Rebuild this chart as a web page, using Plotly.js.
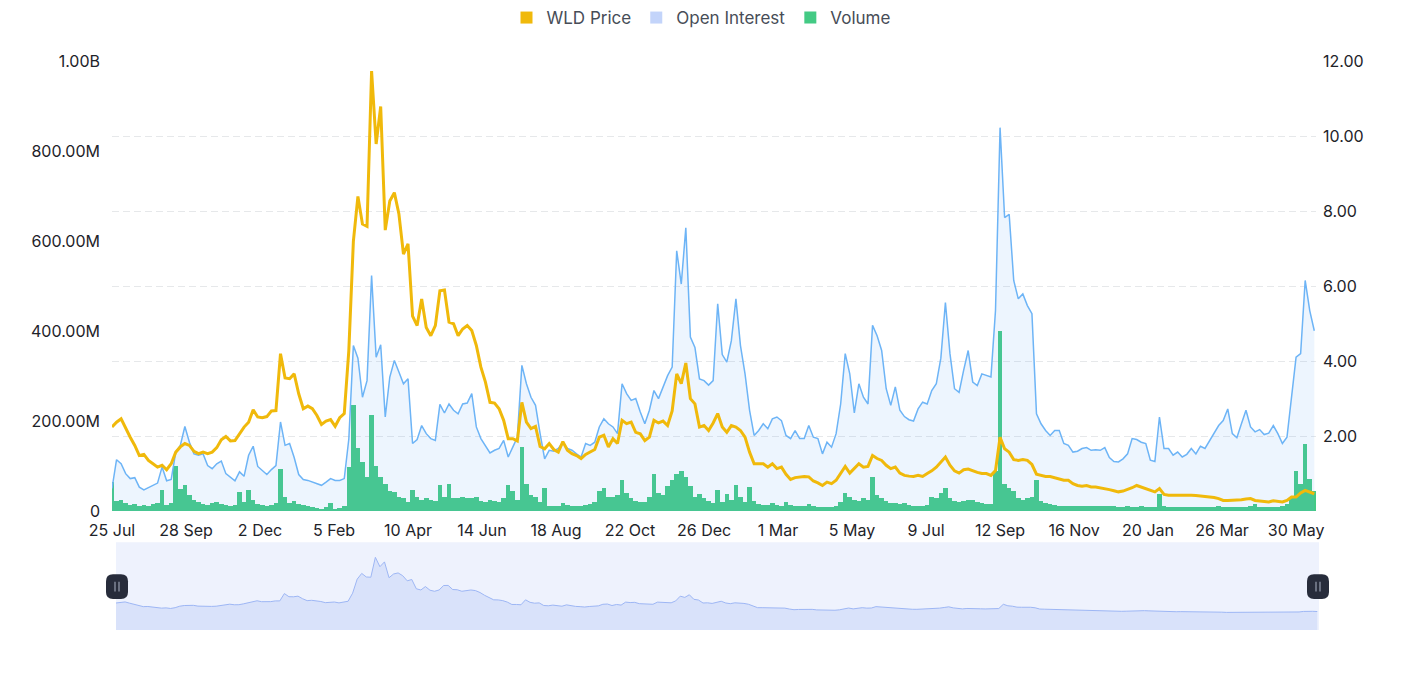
<!DOCTYPE html>
<html>
<head>
<meta charset="utf-8">
<script src="https://cdn.plot.ly/plotly-3.0.1.min.js"></script>
<style>
  html, body { margin: 0; padding: 0; background: #ffffff; }
  #chart { width: 1402px; height: 675px; }
</style>
</head>
<body>
<div id="chart"></div>
<script>
// WLD perpetual: price, open interest and volume, one sample every 4 days from 25 Jul 2023
const startDate = '2023-07-25';
const stepDays = 4;

// WLD price in USDT
const priceUsd = [
  2.24, 2.37, 2.46, 2.2, 1.97, 1.75, 1.48, 1.51, 1.35, 1.26,
  1.17, 1.22, 1.1, 1.26, 1.57, 1.71, 1.8, 1.75, 1.59, 1.53,
  1.57, 1.53, 1.57, 1.69, 1.9, 1.99, 1.87, 1.88, 2.06, 2.24,
  2.37, 2.7, 2.51, 2.49, 2.52, 2.67, 2.68, 4.2, 3.55, 3.53,
  3.66, 3.13, 2.73, 2.8, 2.73, 2.55, 2.31, 2.4, 2.44, 2.26,
  2.49, 2.6, 4.28, 7.2, 8.4, 7.66, 7.6, 11.75, 9.8, 10.8,
  7.5, 8.28, 8.5, 7.93, 6.86, 7.13, 5.2, 4.95, 5.66, 4.9,
  4.68, 4.95, 5.88, 5.9, 5.04, 5.0, 4.68, 4.86, 4.95, 4.82,
  4.42, 3.84, 3.44, 2.9, 2.88, 2.73, 2.42, 1.93, 1.93, 1.87,
  2.9, 2.37, 2.2, 2.26, 1.72, 1.66, 1.8, 1.64, 1.57, 1.85,
  1.62, 1.53, 1.48, 1.4, 1.51, 1.57, 1.64, 1.97, 2.02, 1.71,
  1.93, 1.8, 2.42, 2.33, 2.37, 2.1, 2.06, 1.88, 1.97, 2.42,
  2.35, 2.4, 2.28, 2.67, 3.66, 3.4, 3.95, 3.0, 2.86, 2.24,
  2.28, 2.15, 2.35, 2.6, 2.24, 2.1, 2.28, 2.24, 2.15, 1.97,
  1.57, 1.26, 1.26, 1.26, 1.17, 1.26, 1.13, 1.17, 0.98, 0.84,
  0.89, 0.91, 0.92, 0.91, 0.8, 0.75, 0.68, 0.77, 0.73, 0.82,
  1.0, 1.19, 1.01, 1.13, 1.26, 1.17, 1.19, 1.48, 1.4, 1.35,
  1.22, 1.13, 1.17, 1.01, 0.95, 0.93, 0.92, 0.95, 0.92, 1.0,
  1.07, 1.17, 1.3, 1.44, 1.22, 1.07, 1.01, 1.1, 1.12, 1.07,
  1.03, 1.0, 1.0, 0.95, 1.08, 1.97, 1.66, 1.57, 1.37, 1.35,
  1.37, 1.35, 1.24, 0.98, 0.95, 0.92, 0.92, 0.89, 0.84, 0.82,
  0.82, 0.73, 0.68, 0.66, 0.68, 0.64, 0.64, 0.62, 0.61, 0.57,
  0.54, 0.51, 0.53, 0.57, 0.62, 0.68, 0.64, 0.6, 0.55, 0.51,
  0.6, 0.44, 0.42, 0.42, 0.44, 0.44, 0.42, 0.42, 0.41, 0.4,
  0.39, 0.39, 0.36, 0.33, 0.28, 0.28, 0.28, 0.28, 0.3, 0.32,
  0.33, 0.28, 0.27, 0.26, 0.24, 0.27, 0.25, 0.24, 0.28, 0.37,
  0.37, 0.48, 0.55, 0.51, 0.46
];

// Open interest, millions of USDT
const openInterestM = [
  50, 114, 105, 83, 72, 74, 53, 47, 52, 57,
  62, 98, 67, 70, 131, 146, 188, 153, 127, 124,
  127, 101, 94, 105, 111, 83, 74, 67, 87, 77,
  124, 144, 99, 89, 81, 92, 101, 198, 146, 150,
  119, 81, 70, 68, 64, 61, 57, 64, 72, 68,
  68, 72, 160, 368, 340, 253, 290, 524, 342, 370,
  209, 298, 335, 309, 283, 294, 150, 159, 190, 172,
  161, 157, 237, 218, 238, 224, 216, 238, 240, 261,
  187, 161, 146, 129, 135, 139, 157, 120, 142, 164,
  324, 283, 253, 235, 172, 116, 135, 133, 139, 153,
  139, 135, 127, 120, 150, 146, 153, 187, 205, 194,
  187, 172, 283, 261, 246, 250, 220, 194, 224, 268,
  250, 276, 301, 320, 579, 505, 630, 387, 364, 294,
  290, 280, 290, 461, 348, 331, 379, 472, 368, 305,
  224, 168, 179, 194, 183, 205, 209, 201, 168, 161,
  179, 161, 161, 190, 164, 161, 127, 153, 142, 172,
  238, 350, 305, 218, 283, 253, 238, 413, 390, 357,
  272, 235, 276, 224, 210, 203, 200, 227, 242, 238,
  268, 283, 340, 464, 350, 272, 264, 313, 357, 287,
  279, 305, 301, 298, 446, 853, 653, 660, 513, 472,
  483, 457, 439, 216, 194, 179, 168, 179, 179, 150,
  146, 131, 133, 139, 141, 135, 136, 135, 141, 119,
  110, 109, 116, 127, 161, 159, 153, 150, 113, 110,
  209, 139, 139, 124, 131, 120, 126, 139, 127, 144,
  139, 156, 176, 190, 201, 227, 172, 163, 194, 224,
  187, 176, 181, 170, 173, 190, 172, 150, 164, 260,
  342, 350, 513, 446, 401
];

// Traded volume, millions of USDT
const volumeM = [
  64, 22, 25, 18, 14, 16, 12, 14, 12, 16,
  18, 46, 14, 18, 101, 48, 57, 35, 25, 20,
  16, 14, 18, 20, 16, 14, 12, 14, 42, 20,
  47, 24, 16, 14, 12, 14, 18, 94, 30, 18,
  22, 16, 14, 10, 8, 6, 5, 8, 18, 5,
  6, 12, 98, 235, 140, 110, 75, 213, 100, 75,
  60, 45, 42, 30, 28, 20, 46, 32, 25, 28,
  25, 22, 57, 30, 61, 28, 28, 30, 28, 28,
  30, 22, 20, 24, 22, 20, 28, 57, 45, 25,
  142, 60, 35, 30, 20, 50, 12, 12, 12, 18,
  14, 12, 12, 12, 14, 16, 20, 45, 50, 30,
  32, 35, 68, 40, 28, 22, 20, 20, 30, 83,
  40, 35, 55, 68, 83, 90, 75, 55, 32, 38,
  28, 22, 18, 46, 20, 38, 25, 57, 32, 20,
  53, 22, 15, 14, 14, 18, 14, 12, 20, 14,
  10, 10, 12, 15, 10, 8, 8, 8, 8, 10,
  20, 39, 30, 25, 22, 28, 25, 75, 35, 28,
  22, 18, 18, 16, 18, 14, 12, 12, 12, 14,
  30, 28, 40, 50, 28, 22, 20, 22, 24, 24,
  20, 18, 16, 16, 90, 401, 60, 50, 45, 28,
  24, 28, 30, 68, 22, 18, 15, 14, 12, 12,
  12, 12, 10, 10, 10, 10, 10, 10, 10, 10,
  10, 9, 9, 10, 9, 9, 10, 9, 9, 9,
  38, 12, 9, 8, 8, 9, 8, 9, 8, 8,
  9, 8, 9, 12, 9, 8, 8, 8, 8, 9,
  10, 16, 9, 8, 9, 9, 9, 10, 16, 28,
  90, 60, 150, 70, 45
];

// Bottom axis ticks
const tickDates = [
  '2023-07-25', '2023-09-28', '2023-12-02', '2024-02-05', '2024-04-10',
  '2024-06-14', '2024-08-18', '2024-10-22', '2024-12-26', '2025-03-01',
  '2025-05-05', '2025-07-09', '2025-09-12', '2025-11-16', '2026-01-20',
  '2026-03-26', '2026-05-30'
];
const tickLabels = [
  '25 Jul', '28 Sep', '2 Dec', '5 Feb', '10 Apr', '14 Jun', '18 Aug', '22 Oct',
  '26 Dec', '1 Mar', '5 May', '9 Jul', '12 Sep', '16 Nov', '20 Jan', '26 Mar', '30 May'
];
const leftTickVals = [0, 200e6, 400e6, 600e6, 800e6, 1e9];
const leftTickLabels = ['0', '200.00M', '400.00M', '600.00M', '800.00M', '1.00B'];
const rightTickVals = [2, 4, 6, 8, 10, 12];

// ---- helpers ----
const DAY_MS = 86400000;
const t0 = Date.parse(startDate + 'T00:00:00Z');
function dateAt(dayOffset) {
  const iso = new Date(t0 + dayOffset * DAY_MS).toISOString();
  return iso.slice(0, 10) + ' ' + iso.slice(11, 19);
}
const dates = priceUsd.map((_, i) => dateAt(i * stepDays));
const xRange = [dateAt(0), dateAt((priceUsd.length - 1) * stepDays + 1.5)];

const W = 1402, H = 675;
const px = v => v / W;          // horizontal pixel -> paper
const py = v => 1 - v / H;      // vertical pixel -> paper

// main panel and navigator panel placement (pixels)
const main = { l: 112, r: 1316, t: 60.7, b: 510.7 };
const nav = { l: 116, r: 1319, t: 542, b: 630 };
const navFloor = -3.4, navTop = 14.9;

const COLORS = {
  price: '#F0B90B',
  oiLine: '#6DB4F6',
  oiFill: 'rgba(110,175,245,0.12)',
  oiLegend: '#C3D4FA',
  volume: '#43CA84',
  text: '#1E2329',
  legendText: '#474D57',
  grid: '#E6E8EA',
  navBg: '#EEF2FD',
  navFill: '#D9E2FA',
  navLine: '#9DB6F4',
  handle: '#272C3B',
  handleGrip: '#8E95A7'
};
const FONT = 'Inter, "Noto Sans", sans-serif';

function roundedRect(cx, cy, w, h, r) {
  const x0 = cx - w / 2, x1 = cx + w / 2, y0 = cy - h / 2, y1 = cy + h / 2;
  const P = (x, y) => px(x).toFixed(5) + ',' + py(y).toFixed(5);
  return 'M' + P(x0 + r, y0) + ' L' + P(x1 - r, y0) + ' Q' + P(x1, y0) + ' ' + P(x1, y0 + r) +
         ' L' + P(x1, y1 - r) + ' Q' + P(x1, y1) + ' ' + P(x1 - r, y1) +
         ' L' + P(x0 + r, y1) + ' Q' + P(x0, y1) + ' ' + P(x0, y1 - r) +
         ' L' + P(x0, y0 + r) + ' Q' + P(x0, y0) + ' ' + P(x0 + r, y0) + ' Z';
}

function handleShapes(cx) {
  const cy = 586.5;
  const out = [{
    type: 'path', xref: 'paper', yref: 'paper', path: roundedRect(cx, cy, 22, 25, 7),
    fillcolor: COLORS.handle, line: { width: 0 }, layer: 'above'
  }];
  [-2, 2].forEach(dx => out.push({
    type: 'line', xref: 'paper', yref: 'paper',
    x0: px(cx + dx), x1: px(cx + dx), y0: py(cy - 5), y1: py(cy + 5),
    line: { color: COLORS.handleGrip, width: 1.3 }, layer: 'above'
  }));
  return out;
}

// ---- traces ----
const traces = [
  // legend swatches
  { type: 'bar', name: 'WLD Price', x: [null], y: [null], xaxis: 'x2', yaxis: 'y3',
    marker: { color: COLORS.price }, legendrank: 1, hoverinfo: 'skip' },
  { type: 'bar', name: 'Open Interest', x: [null], y: [null], xaxis: 'x2', yaxis: 'y3',
    marker: { color: COLORS.oiLegend }, legendrank: 2, hoverinfo: 'skip' },
  // volume bars
  { type: 'bar', name: 'Volume', x: dates, y: volumeM.map(v => v * 1e6),
    xaxis: 'x', yaxis: 'y', width: stepDays * DAY_MS,
    marker: { color: COLORS.volume, line: { width: 0 } }, legendrank: 3 },
  // open interest area
  { type: 'scatter', mode: 'lines', name: 'Open Interest', showlegend: false,
    x: dates, y: openInterestM.map(v => v * 1e6), xaxis: 'x', yaxis: 'y',
    line: { color: COLORS.oiLine, width: 1.5 }, fill: 'tozeroy', fillcolor: COLORS.oiFill },
  // price line on right axis
  { type: 'scatter', mode: 'lines', name: 'WLD Price', showlegend: false,
    x: dates, y: priceUsd, xaxis: 'x', yaxis: 'y2',
    line: { color: COLORS.price, width: 3 } },
  // navigator: floor then filled price outline
  { type: 'scatter', mode: 'lines', showlegend: false, hoverinfo: 'skip',
    x: dates, y: priceUsd.map(() => navFloor), xaxis: 'x2', yaxis: 'y3',
    line: { width: 0, color: 'rgba(0,0,0,0)' } },
  { type: 'scatter', mode: 'lines', showlegend: false, hoverinfo: 'skip',
    x: dates, y: priceUsd, xaxis: 'x2', yaxis: 'y3',
    line: { color: COLORS.navLine, width: 1 }, fill: 'tonexty', fillcolor: COLORS.navFill }
];

const layout = {
  width: W, height: H,
  margin: { l: 0, r: 0, t: 0, b: 0 },
  paper_bgcolor: '#ffffff', plot_bgcolor: 'rgba(0,0,0,0)',
  font: { family: FONT, size: 16, color: COLORS.text },
  barmode: 'overlay', bargap: 0,
  showlegend: true,
  legend: {
    orientation: 'h', x: 0.5, xanchor: 'center', y: py(17.5), yanchor: 'middle',
    font: { family: FONT, size: 17, color: COLORS.legendText },
    traceorder: 'normal', itemclick: false, itemdoubleclick: false
  },
  xaxis: {
    domain: [px(main.l), px(main.r)], type: 'date', range: xRange,
    tickmode: 'array', tickvals: tickDates, ticktext: tickLabels,
    showgrid: false, zeroline: false, showline: false, ticks: '',
    ticklabelstandoff: 8, tickfont: { family: FONT, size: 16, color: COLORS.text },
    anchor: 'y', fixedrange: true
  },
  yaxis: {
    domain: [py(main.b), py(main.t)], range: [0, 1e9],
    tickmode: 'array', tickvals: leftTickVals, ticktext: leftTickLabels,
    showgrid: false, zeroline: false, showline: false, ticks: '',
    ticklabelstandoff: 11, tickfont: { family: FONT, size: 16, color: COLORS.text },
    fixedrange: true
  },
  yaxis2: {
    overlaying: 'y', side: 'right', anchor: 'x', range: [0, 12],
    tickmode: 'array', tickvals: rightTickVals, tickformat: '.2f',
    showgrid: true, gridcolor: COLORS.grid, gridwidth: 1, griddash: '7px,4px',
    zeroline: false, showline: false, ticks: '',
    ticklabelstandoff: 6, tickfont: { family: FONT, size: 16, color: COLORS.text },
    fixedrange: true
  },
  xaxis2: {
    domain: [px(nav.l), px(nav.r)], type: 'date', range: xRange, anchor: 'y3',
    showgrid: false, zeroline: false, showline: false, showticklabels: false, ticks: '',
    fixedrange: true
  },
  yaxis3: {
    domain: [py(nav.b), py(nav.t)], range: [navFloor, navTop], anchor: 'x2',
    showgrid: false, zeroline: false, showline: false, showticklabels: false, ticks: '',
    fixedrange: true
  },
  shapes: [
    { type: 'rect', xref: 'x2 domain', yref: 'y3 domain', x0: 0, x1: 1, y0: 0, y1: 1,
      fillcolor: COLORS.navBg, line: { width: 0 }, layer: 'below' },
    ...handleShapes(nav.l + 1),
    ...handleShapes(nav.r - 1)
  ]
};

Plotly.newPlot('chart', traces, layout, { displayModeBar: false, staticPlot: true });
</script>
</body>
</html>
